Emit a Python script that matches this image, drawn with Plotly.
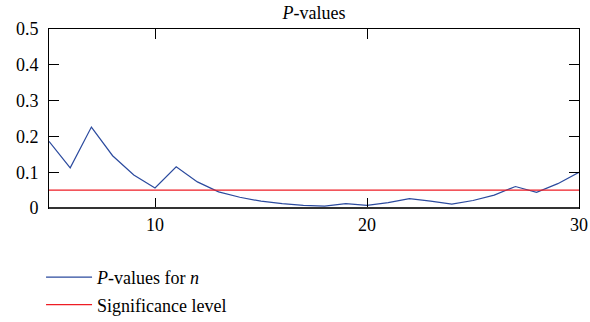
import plotly.graph_objects as go

n_values = list(range(5, 31))
p_values = [0.186, 0.112, 0.226, 0.146, 0.092, 0.056, 0.115, 0.073, 0.045, 0.030,
            0.019, 0.012, 0.0075, 0.005, 0.012, 0.0075, 0.015, 0.026, 0.019, 0.011,
            0.021, 0.036, 0.060, 0.044, 0.068, 0.100]
significance = 0.05
x_ticks = [10, 20, 30]
y_ticks = [0, 0.1, 0.2, 0.3, 0.4, 0.5]
y_tick_labels = ["0", "0.1", "0.2", "0.3", "0.4", "0.5"]

font_family = "Liberation Serif"

fig = go.Figure()
fig.add_trace(go.Scatter(x=n_values, y=p_values, mode="lines",
                         line=dict(color="#2b4a9e", width=1.2),
                         legendgroup="a",
                         name="<i>P</i>-values for <i>n</i>"))
fig.add_trace(go.Scatter(x=[n_values[0], n_values[-1]], y=[significance, significance],
                         mode="lines", line=dict(color="#ee1c24", width=1.2),
                         legendgroup="b",
                         name="Significance level"))

fig.update_layout(
    width=590, height=322,
    margin=dict(l=49, r=11, t=29, b=114, autoexpand=False),
    paper_bgcolor="white", plot_bgcolor="white",
    font=dict(family=font_family, size=18, color="black"),
    title=dict(text="<i>P</i>-values", x=0.5, xref="paper", xanchor="center",
               y=0.962, yanchor="middle", font=dict(family=font_family, size=18)),
    showlegend=True,
    legend=dict(x=-0.015, y=-0.285, xanchor="left", yanchor="top",
                orientation="v", font=dict(family=font_family, size=18), tracegroupgap=1,
                itemwidth=46, bgcolor="rgba(0,0,0,0)"),
    shapes=[dict(type="line", xref="paper", yref="paper", x0=0, x1=1, y0=0, y1=0,
                 line=dict(color="#333333", width=2))],
)
fig.update_xaxes(range=[5, 30], tickvals=x_ticks, ticks="inside", ticklen=10,
                 tickfont=dict(family=font_family, size=18),
                 showline=True, linecolor="black", linewidth=1, mirror="ticks",
                 showgrid=False, zeroline=False, tickcolor="black")
fig.update_yaxes(range=[0, 0.5], tickvals=y_ticks, ticktext=y_tick_labels,
                 tickfont=dict(family=font_family, size=18),
                 ticks="inside", ticklen=10, ticklabelstandoff=6,
                 showline=True, linecolor="black", linewidth=1, mirror="ticks",
                 showgrid=False, zeroline=False, tickcolor="black")

fig.write_html("out.html", config={"displayModeBar": False},
               post_script="document.body.style.margin='0';document.body.style.overflow='hidden';")
